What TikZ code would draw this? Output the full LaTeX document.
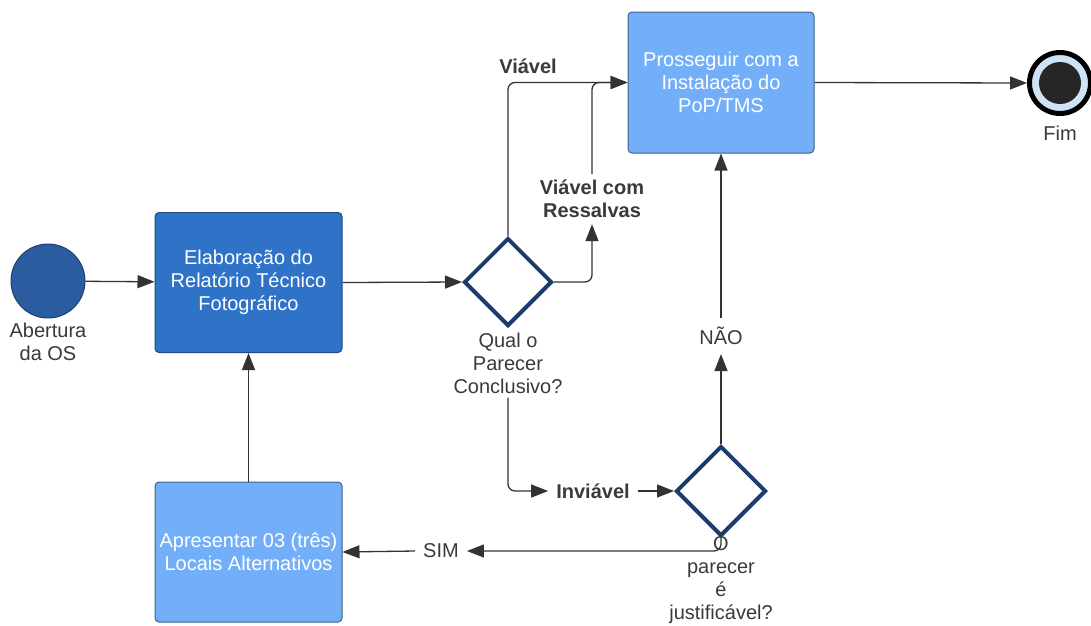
\documentclass[tikz,border=0pt]{standalone}
\usepackage{fontspec}
\setmainfont{Liberation Sans}
\usetikzlibrary{arrows.meta,shapes.geometric}
\definecolor{startfill}{HTML}{2B5C9F}
\definecolor{startedge}{HTML}{1D3E6E}
\definecolor{darkbox}{HTML}{2F73C9}
\definecolor{darkedge}{HTML}{1E4A85}
\definecolor{lightbox}{HTML}{72AFF8}
\definecolor{lightedge}{HTML}{3F5F8C}
\definecolor{navy}{HTML}{1C3D6B}
\definecolor{linec}{HTML}{333333}
\definecolor{labc}{HTML}{3A3A3A}
\definecolor{ringblue}{HTML}{CFE3F7}
\begin{document}
\begin{tikzpicture}[x=1pt,y=-1pt,
  every node/.style={font=\fontsize{20}{23}\selectfont},
  procbox/.style={rectangle, rounded corners=4pt, line width=1pt, minimum width=187pt, minimum height=140pt, text=white, align=center, inner sep=0pt},
  decision/.style={diamond, draw=navy, line width=4pt, fill=white, minimum width=88pt, minimum height=88pt, inner sep=0pt},
  conn/.style={draw=linec, line width=1.3pt, -{Triangle[length=17pt,width=13pt]}, rounded corners=7pt},
  lbl/.style={text=labc, align=center, inner sep=8pt},
  blbl/.style={lbl, font=\bfseries\fontsize{20}{23}\selectfont}
]
\useasboundingbox (0,0) rectangle (1091,625);
\fill[white] (0,0) rectangle (1091,625);

% nodes
\node[circle, fill=startfill, draw=startedge, line width=1pt, minimum size=74pt, inner sep=0pt] (start) at (48,281) {};
\node[lbl, inner sep=0pt] (startlbl) at (48,342) {Abertura\\da OS};

\node[procbox, fill=darkbox, draw=darkedge] (box1) at (248.5,282.5) {Elaboração do\\Relatório Técnico\\Fotográfico};
\node[procbox, fill=lightbox, draw=lightedge, minimum width=186pt, minimum height=141pt] (box2) at (721,82.5) {Prosseguir com a\\Instalação do\\PoP/TMS};
\node[procbox, fill=lightbox, draw=lightedge] (box3) at (248.5,552) {Apresentar 03 (três)\\Locais Alternativos};

\node[decision] (d1) at (508,282) {};
\node[lbl, inner sep=4pt] (qlbl) at (508,363) {Qual o\\Parecer\\Conclusivo?};

\node[decision, minimum width=90pt, minimum height=90pt] (d2) at (721,491) {};
\node[lbl, inner sep=0pt] (olbl) at (721,580) {O\\parecer\\é\\justificável?};

\node[circle, fill=ringblue, draw=black, line width=5pt, minimum size=61pt, inner sep=0pt] (fim) at (1060,83) {};
\fill[black!85] (fim.center) circle (21pt);
\node[lbl, inner sep=0pt] (fimlbl) at (1060,133) {Fim};

\node[blbl, inner sep=0pt] (viavel) at (528,66) {Viável};
\node[blbl, inner sep=6pt] (ress) at (592,199) {Viável com\\Ressalvas};
\node[blbl, inner sep=8pt] (inv) at (593,491) {Inviável};
\node[lbl, inner sep=9pt] (nao) at (721,336) {NÃO};
\node[lbl, inner sep=8pt] (sim) at (441,551) {SIM};

% connectors
\draw[conn] (start) -- (box1);
\draw[conn] (box1.east) -- (d1.west);
\draw[conn] (d1.north) |- (box2.west);
\draw[conn] (d1.east) -| (ress.south);
\draw[conn] (ress.north) |- (box2.west);
\draw[conn] (qlbl.south) |- (inv.west);
\draw[conn] (inv.east) -- (d2.west);
\draw[conn] (d2.north) -- (nao.south);
\draw[conn] (nao.north) -- (box2.south);
\draw[conn] (d2.south) |- (sim.east);
\draw[conn] (sim.west) -- (box3.east);
\draw[conn] (box3.north) -- (box1.south);
\draw[conn] (box2.east) -- (fim.west);
\end{tikzpicture}
\end{document}
